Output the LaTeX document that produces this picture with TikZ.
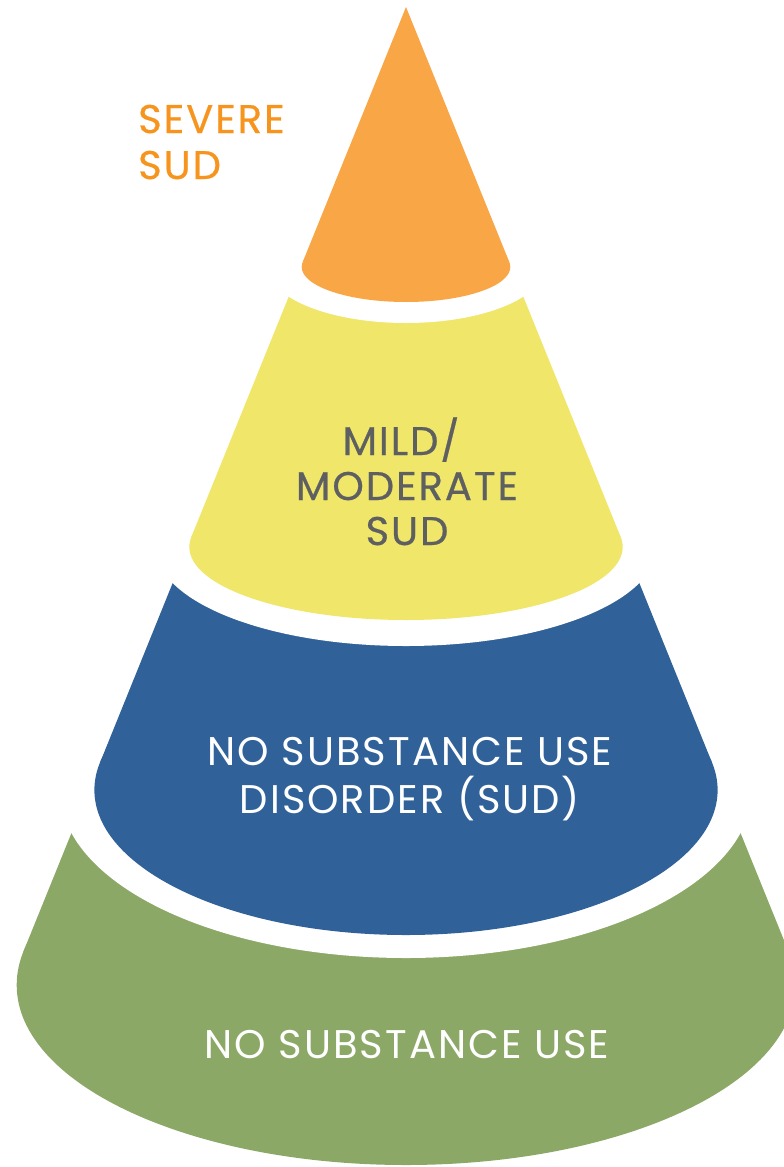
\documentclass[tikz,border=0pt]{standalone}
\usepackage{fontspec}
\setmainfont{Poppins}
\newfontfamily\lblfont{Poppins}[LetterSpace=5]
\newfontfamily\lblfontmed{Poppins}[LetterSpace=5, FakeBold=0.6]
\definecolor{corange}{HTML}{F9A647}
\definecolor{torange}{HTML}{F7941E}
\definecolor{cyellow}{HTML}{F0E66A}
\definecolor{cblue}{HTML}{306199}
\definecolor{cgreen}{HTML}{8BA866}
\definecolor{tgray}{HTML}{5E5F61}
\tikzset{
  lbl/.style={inner sep=0pt, anchor=base, font=\lblfont\fontsize{40}{46}\selectfont},
  lblm/.style={inner sep=0pt, anchor=base, font=\lblfontmed\fontsize{40}{46}\selectfont},
  gap/.style={fill=white}
}
\begin{document}
\begin{tikzpicture}[x=1pt,y=-1pt]
\useasboundingbox (0,0) rectangle (784,1167);
\clip (0,0) rectangle (784,1167);
% green layer
\fill[cgreen] (73.5,828) -- (23.3,951.9) -- (788.7,951.9) -- (738.5,828) -- cycle;
\fill[cgreen] (406,985) ellipse [x radius=389.3, y radius=180];
% gap above green
\fill[gap] (406,790) ellipse [x radius=346, y radius=168];
% blue layer
\fill[cblue] (174.7,578) -- (99.8,763.15) -- (712.2,763.15) -- (637.3,578) -- cycle;
\fill[cblue] (406,790) ellipse [x radius=311.6, y radius=145];
% gap above blue
\fill[gap] (406,547) ellipse [x radius=250.4, y radius=99];
% yellow layer
\fill[cyellow] (290.6,292) -- (191.3,537.1) -- (620.7,537.1) -- (521.4,292) -- cycle;
\fill[cyellow] (406,547) ellipse [x radius=216.7, y radius=73];
% gap above yellow
\fill[gap] (406,267) ellipse [x radius=138.3, y radius=56];
% orange layer
\fill[corange] (406,7) -- (302.6,262.3) -- (509.4,262.3) -- cycle;
\fill[corange] (406,267) ellipse [x radius=104.3, y radius=35];
% labels
\node[lblm, anchor=base west, text=torange] (sev1) at (138,133) {SEVERE};
\node[lblm, anchor=base west, text=torange] (sev2) at (138,179) {SUD};
\node[lblm, text=tgray] (mild1) at (401,455) {MILD/};
\node[lblm, text=tgray] (mild2) at (407,500) {MODERATE};
\node[lblm, text=tgray] (mild3) at (407,545) {SUD};
\node[lbl, text=white] (nsud1) at (410,765) {NO SUBSTANCE USE};
\node[lbl, text=white] (nsud2) at (410,813) {DISORDER (SUD)};
\node[lbl, text=white] (nsu) at (407,1058) {NO SUBSTANCE USE};
\end{tikzpicture}
\end{document}
